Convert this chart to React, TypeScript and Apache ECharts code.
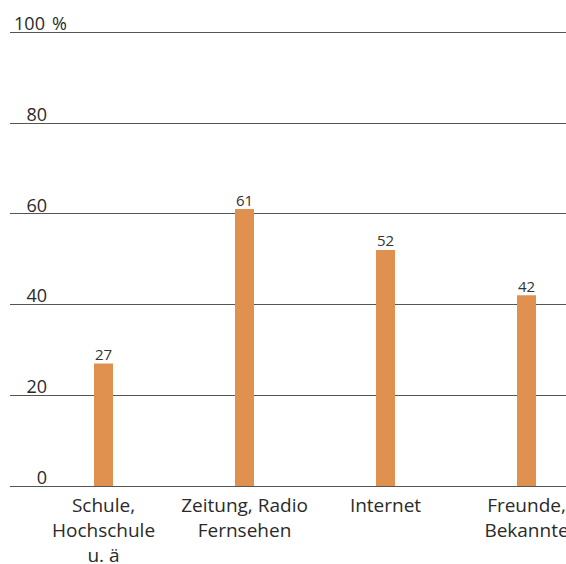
import React, { useEffect, useRef } from "react";
import * as echarts from "echarts";

const categories = ["Schule,\nHochschule\nu. ä", "Zeitung, Radio\nFernsehen", "Internet", "Freunde,\nBekannte"];
const values = [27, 61, 52, 42];
const yTicks = [0, 20, 40, 60, 80, 100];

const FONT = "'Open Sans', 'Noto Sans', sans-serif";

export default function App() {
  const ref = useRef<HTMLDivElement>(null);
  useEffect(() => {
    document.body.style.margin = "0";
    const chart = echarts.init(ref.current!, null, { renderer: "svg" });
    chart.setOption({
      animation: false,
      backgroundColor: "#ffffff",
      textStyle: { fontFamily: FONT },
      grid: [
        { left: 10, right: 0, top: 32, bottom: 78, outerBoundsMode: "none", containLabel: false },
        { left: 33, width: 564, top: 32, bottom: 78, outerBoundsMode: "none", containLabel: false },
      ],
      xAxis: [
        { gridIndex: 0, type: "value", min: 0, max: 1, show: false },
        {
          gridIndex: 1,
          type: "category",
          data: categories,
          axisLine: { show: false },
          axisTick: { show: false },
          axisLabel: {
            margin: 6,
            fontSize: 19,
            lineHeight: 25,
            color: "#2a2a2a",
            fontFamily: FONT,
            interval: 0,
          },
        },
      ],
      yAxis: [
        {
          gridIndex: 0,
          type: "value",
          min: yTicks[0],
          max: yTicks[yTicks.length - 1],
          interval: 20,
          axisLine: { show: false },
          axisTick: { show: false },
          splitLine: { show: true, lineStyle: { color: "#555", width: 1 } },
          axisLabel: {
            inside: true,
            margin: 2,
            align: "left",
            verticalAlign: "bottom",
            color: "#2a2a2a",
            fontFamily: FONT,
            formatter: (v: number) => (v === 100 ? `{n|${v}}{p|%}` : `{n|${v}}`),
            rich: {
              n: { width: 35, align: "right", fontSize: 18, color: "#2a2a2a", fontFamily: FONT },
              p: { fontSize: 18, color: "#2a2a2a", fontFamily: FONT, padding: [0, 0, 0, 5] },
            },
          },
        },
        {
          gridIndex: 1,
          type: "value",
          min: 0,
          max: 100,
          show: false,
          splitLine: { show: false },
        },
      ],
      series: [
        {
          type: "bar",
          xAxisIndex: 1,
          yAxisIndex: 1,
          data: values,
          barWidth: 19,
          itemStyle: { color: "#E0914F" },
          label: {
            show: true,
            position: "top",
            distance: 2,
            fontSize: 15,
            color: "#333",
            fontFamily: FONT,
          },
        },
      ],
    });
    return () => chart.dispose();
  }, []);
  return <div ref={ref} style={{ width: 566, height: 564 }} />;
}
